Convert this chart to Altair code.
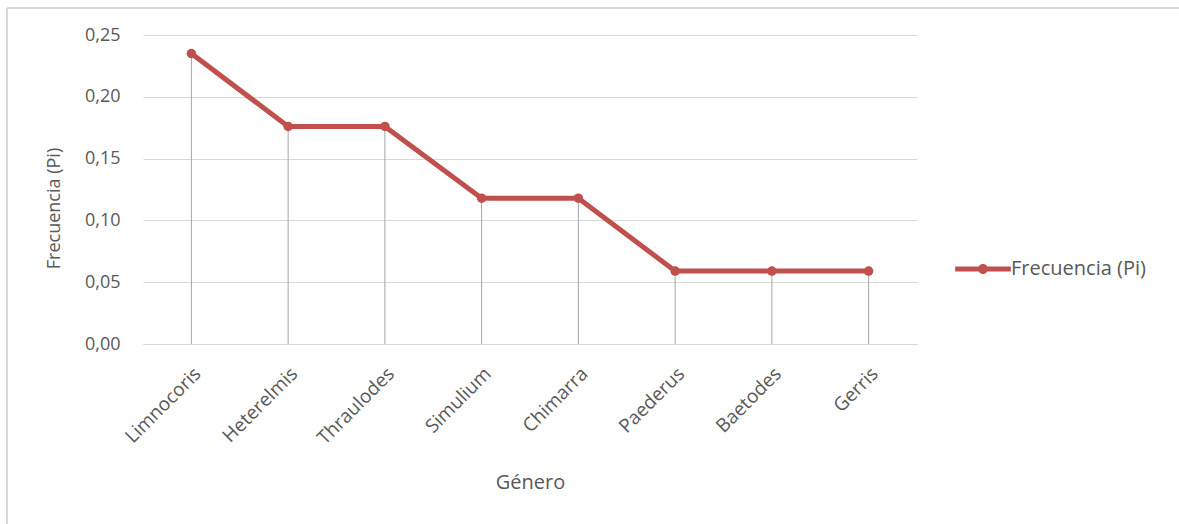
import altair as alt
import pandas as pd

# Relative frequency (Pi) of each genus
generos = ["Limnocoris", "Heterelmis", "Thraulodes", "Simulium",
           "Chimarra", "Paederus", "Baetodes", "Gerris"]
frecuencia = [0.235, 0.176, 0.176, 0.118, 0.118, 0.059, 0.059, 0.059]
serie = "Frecuencia (Pi)"

df = pd.DataFrame({"Género": generos, "Pi": frecuencia, "serie": serie})

FONT = "Open Sans"
GRAY_TXT = "#595959"
RED = "#C0504D"

x_enc = alt.X(
    "Género:N",
    sort=generos,
    scale=alt.Scale(paddingInner=0, paddingOuter=0),
    axis=alt.Axis(
        title="Género", labelAngle=-45, labelPadding=20, ticks=False,
        domainColor="#d9d9d9", grid=False, titlePadding=25,
        labelFontSize=19, titleFontSize=20,
    ),
)
y_enc = alt.Y(
    "Pi:Q",
    scale=alt.Scale(domain=[0, 0.25], nice=False),
    axis=alt.Axis(
        title="Frecuencia (Pi)", values=[0, 0.05, 0.1, 0.15, 0.2, 0.25],
        labelExpr="replace(format(datum.value, '.2f'), '.', ',')",
        domain=False, ticks=False, labelPadding=23, gridColor="#d9d9d9",
        labelFontSize=18, titleFontSize=18,
        titleX=-80, titleY=173, titleAlign="center", titleAngle=270,
    ),
)

base = alt.Chart(df)

# Drop lines from each point down to the axis
drops = base.mark_rule(color="#a6a6a6", strokeWidth=1).encode(
    x=x_enc, y=alt.Y("Pi:Q"), y2=alt.datum(0)
)

# Legend glyph: a thick line with a filled dot in the middle
legend_symbol = (
    "M-1,-0.09H1V0.09H-1Z "
    "M-0.18,0A0.18,0.18 0 1,1 0.18,0A0.18,0.18 0 1,1 -0.18,0Z"
)

line = base.mark_line(
    strokeWidth=5, point=alt.OverlayMarkDef(size=90, filled=True, color=RED)
).encode(
    x=x_enc,
    y=y_enc,
    color=alt.Color(
        "serie:N",
        scale=alt.Scale(range=[RED]),
        legend=alt.Legend(
            title=None, orient="none", legendX=812, legendY=206,
            symbolType=legend_symbol, symbolSize=3100,
            symbolStrokeWidth=0, symbolFillColor=RED,
            labelFontSize=20, labelOffset=0,
        ),
    ),
)

# Light outer frame around the whole figure
frame_left = alt.Chart(df).mark_rule(color="#d9d9d9", strokeWidth=1.5, clip=False).encode(
    x=alt.value(-136), y=alt.value(-27), y2=alt.value(500)
)
frame_top = alt.Chart(df).mark_rule(color="#d9d9d9", strokeWidth=1.5, clip=False).encode(
    x=alt.value(-136), x2=alt.value(1050), y=alt.value(-27)
)

chart = (
    alt.layer(frame_left, frame_top, drops, line)
    .properties(
        width=774, height=309,
        padding={"left": 143, "top": 35, "right": 262, "bottom": 180},
        autosize=alt.AutoSizeParams(type="none"),
        background="white",
    )
    .configure_view(stroke=None)
    .configure_axis(labelFont=FONT, titleFont=FONT, labelColor=GRAY_TXT,
                    titleColor=GRAY_TXT, titleFontWeight="normal")
    .configure_legend(labelFont=FONT, labelColor=GRAY_TXT)
)

chart.save("out.html", embed_options={"renderer": "svg", "actions": False})
